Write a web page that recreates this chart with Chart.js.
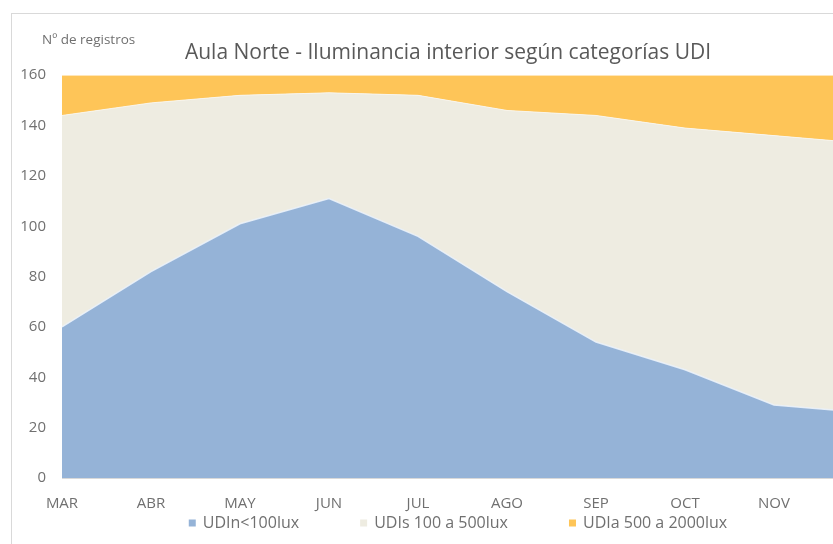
<!DOCTYPE html>
<html>
<head>
<meta charset="utf-8">
<script src="https://cdn.jsdelivr.net/npm/chart.js@4.4.0/dist/chart.umd.min.js"></script>
<style>
  html, body { margin: 0; padding: 0; background: #fff; overflow: hidden; }
  #marco {
    position: absolute; left: 11px; top: 13px;
    width: 880px; height: 531px;
    border-left: 1px solid #d9d9d9; border-top: 1px solid #d9d9d9;
  }
</style>
</head>
<body>
<div id="marco"><canvas id="grafico"></canvas></div>
<script>
// meses (la imagen original corta el último)
const meses = ["MAR", "ABR", "MAY", "JUN", "JUL", "AGO", "SEP", "OCT", "NOV", "DIC"];
// nº de registros por categoría UDI
const udiN = [60, 82, 101, 111, 96, 74, 54, 43, 29, 26];
const udiS = [84, 67, 51, 42, 56, 72, 90, 96, 107, 107];
const udiA = [16, 11, 8, 7, 8, 14, 16, 21, 24, 27];
const ticksY = [0, 20, 40, 60, 80, 100, 120, 140, 160];

const grisTitulo = "#595959";
const gris = "#707070";
const fuente = "Open Sans";

// texto "Nº de registros" encima del eje
const tituloEje = {
  id: "tituloEje",
  afterDraw(chart) {
    const { ctx, chartArea } = chart;
    ctx.save();
    ctx.font = `13.5px "${fuente}"`;
    ctx.fillStyle = gris;
    ctx.textAlign = "left";
    ctx.textBaseline = "middle";
    ctx.fillText("Nº de registros", chartArea.left - 20, chartArea.top - 35);
    ctx.restore();
  }
};

// leyenda al estilo Excel: cuadros pequeños y mucho espacio entre entradas
const leyenda = {
  id: "leyenda",
  afterDraw(chart) {
    const { ctx } = chart;
    const caja = 7, sep = 7, hueco = 61;
    ctx.save();
    ctx.font = `16px "${fuente}"`;
    const items = chart.data.datasets.map(d => ({
      texto: d.label,
      color: d.backgroundColor,
      ancho: caja + sep + ctx.measureText(d.label).width
    }));
    const total = items.reduce((s, it) => s + it.ancho, 0) + hueco * (items.length - 1);
    let x = chart.width / 2 + 6 - total / 2;
    const y = chart.height - 22;
    ctx.textBaseline = "middle";
    ctx.textAlign = "left";
    items.forEach(it => {
      ctx.fillStyle = it.color;
      ctx.fillRect(x, y - caja / 2, caja, caja);
      ctx.fillStyle = gris;
      ctx.fillText(it.texto, x + caja + sep, y);
      x += it.ancho + hueco;
    });
    ctx.restore();
  }
};

const ctx = document.getElementById("grafico").getContext("2d");
new Chart(ctx, {
  type: "line",
  data: {
    labels: meses,
    datasets: [
      {
        label: "UDIn<100lux",
        data: udiN,
        backgroundColor: "#95b3d7",
        borderColor: "rgba(235,242,250,0.9)",
        borderWidth: 1.5,
        fill: "origin",
        pointRadius: 0,
        tension: 0
      },
      {
        label: "UDIs 100 a 500lux",
        data: udiS,
        backgroundColor: "#eeece1",
        borderColor: "rgba(248,246,240,0.9)",
        borderWidth: 1,
        fill: "-1",
        pointRadius: 0,
        tension: 0
      },
      {
        label: "UDIa 500 a 2000lux",
        data: udiA,
        backgroundColor: "#fec558",
        borderColor: "#fec558",
        borderWidth: 0,
        fill: "-1",
        pointRadius: 0,
        tension: 0
      }
    ]
  },
  options: {
    responsive: true,
    maintainAspectRatio: false,
    animation: false,
    layout: { padding: { right: 8, bottom: 15 } },
    plugins: {
      title: {
        display: true,
        text: "Aula Norte - Iluminancia interior según categorías UDI",
        color: grisTitulo,
        font: { family: fuente, size: 21, weight: "normal" },
        padding: { top: 26, bottom: 10 }
      },
      legend: { display: false },
      tooltip: { enabled: false }
    },
    scales: {
      x: {
        afterFit: (s) => { s.paddingRight = 29; },
        grid: { display: false, drawTicks: false },
        border: { color: "#d9d9d9" },
        ticks: {
          color: gris,
          font: { family: fuente, size: 15 },
          maxRotation: 0,
          autoSkip: false,
          padding: 17
        }
      },
      y: {
        stacked: true,
        min: 0,
        max: 160,
        afterFit: (s) => { s.width = 50; },
        afterBuildTicks: (s) => { s.ticks = ticksY.map(v => ({ value: v })); },
        grid: { display: false, drawTicks: false },
        border: { display: false },
        ticks: {
          color: gris,
          font: { family: fuente, size: 15 },
          padding: 16
        }
      }
    }
  },
  plugins: [tituloEje, leyenda]
});
</script>
</body>
</html>
